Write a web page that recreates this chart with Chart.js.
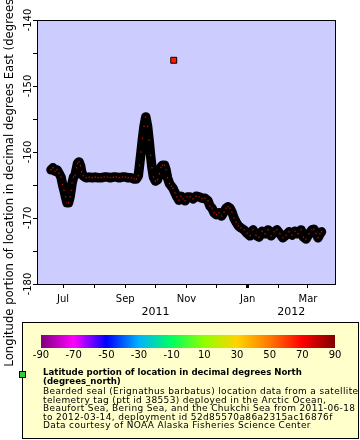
<!DOCTYPE html>
<html><head><meta charset="utf-8">
<script src="https://cdn.jsdelivr.net/npm/chart.js@4/dist/chart.umd.min.js"></script>
<style>html,body{margin:0;padding:0;background:#fff;}canvas{display:block;}</style>
</head><body>
<canvas id="c" width="360" height="440"></canvas>
<script>
// ---- data ----
const trackTimes = [
'2011-06-19','2011-06-21','2011-06-23','2011-06-25','2011-06-27','2011-06-29','2011-06-30T12','2011-07-02','2011-07-03T12','2011-07-05',
'2011-07-06T12','2011-07-08','2011-07-09','2011-07-10','2011-07-11T12','2011-07-13','2011-07-14T12','2011-07-15T12','2011-07-17','2011-07-18T12',
'2011-07-19T12','2011-07-21','2011-07-24','2011-07-27','2011-07-30','2011-08-02','2011-08-05','2011-08-08','2011-08-11','2011-08-14',
'2011-08-17','2011-08-20','2011-08-23','2011-08-26','2011-08-29','2011-09-01','2011-09-04','2011-09-07','2011-09-10','2011-09-12',
'2011-09-14','2011-09-15T05','2011-09-16T17','2011-09-18T05','2011-09-19T17','2011-09-21T10','2011-09-23T05','2011-09-24T17','2011-09-26T05','2011-09-27T14',
'2011-09-29T02','2011-10-01T02','2011-10-03T02','2011-10-05T02','2011-10-06T14','2011-10-08T02','2011-10-10T02','2011-10-11T14','2011-10-13T02','2011-10-15T02',
'2011-10-17T02','2011-10-18T14','2011-10-20T14','2011-10-22T12','2011-10-24T12','2011-10-26T12','2011-10-28T12','2011-10-30T12','2011-11-01T12','2011-11-04T12',
'2011-11-07T12','2011-11-10T12','2011-11-13T12','2011-11-16T10','2011-11-19T10','2011-11-22T10','2011-11-24T10','2011-11-26T10','2011-11-28T10','2011-11-30T22',
'2011-12-03T10','2011-12-05T22','2011-12-08T10','2011-12-10T10','2011-12-12T10','2011-12-14T07','2011-12-16T07','2011-12-18T07','2011-12-20T07','2011-12-22T19',
'2011-12-25T07','2011-12-28T07','2011-12-31T07','2012-01-03T07','2012-01-06T05','2012-01-09T05','2012-01-12T05','2012-01-15T05','2012-01-18T05','2012-01-21T05',
'2012-01-24T05','2012-01-27T05','2012-01-30T02','2012-02-02T02','2012-02-05T02','2012-02-08T02','2012-02-11T02','2012-02-14T02','2012-02-17T02','2012-02-20T02',
'2012-02-23T02','2012-02-25T12','2012-02-28','2012-03-02','2012-03-05','2012-03-07','2012-03-09','2012-03-11','2012-03-13','2012-03-14T12'
];
const trackLons = [
-162.7,-162.4,-162.9,-162.7,-163.2,-163.8,-164.9,-165.8,-166.8,-167.7,
-167.7,-166.8,-165.8,-164.7,-163.8,-163.5,-162.4,-161.7,-161.5,-162.1,
-163.0,-163.6,-163.9,-163.8,-163.9,-163.8,-163.9,-163.9,-163.8,-163.8,
-163.9,-163.8,-163.8,-163.9,-163.8,-163.8,-163.9,-163.9,-164.1,-164.1,
-163.6,-162.0,-160.0,-157.9,-156.1,-154.7,-156.1,-158.2,-160.5,-162.4,
-163.8,-164.4,-164.2,-163.3,-162.3,-162.0,-162.0,-162.7,-163.9,-164.8,
-165.2,-165.5,-166.2,-166.8,-167.3,-166.7,-167.1,-167.4,-166.8,-166.8,
-167.1,-166.7,-166.8,-167.0,-167.0,-167.4,-168.2,-168.5,-169.2,-169.5,
-169.2,-169.7,-169.1,-168.5,-168.3,-168.5,-169.1,-170.0,-170.6,-171.2,
-171.5,-171.8,-172.3,-172.7,-171.8,-172.6,-172.9,-172.0,-172.4,-171.8,
-172.7,-172.1,-171.8,-172.4,-173.0,-172.6,-172.1,-172.6,-172.0,-172.4,
-171.8,-172.9,-173.2,-172.4,-171.8,-171.7,-172.3,-173.0,-172.4,-172.1
];
const strayTimes = ['2011-10-19T07'];
const strayLons = [-146.1];

const xRange = ['2011-06-05T02', '2012-03-27T22'];
const monthTicks = ['2011-07-01','2011-08-01','2011-09-01','2011-10-01','2011-11-01','2011-12-01','2012-01-01','2012-02-01','2012-03-01'];
const monthLabels = ['Jul','','Sep','','Nov','','Jan','','Mar'];
const yearLabels = [2011, 2012];
const lonRange = [-180, -140];
const lonTicks = [-180,-175,-170,-165,-160,-155,-150,-145,-140];
const lonLabels = [-180,-170,-160,-150,-140];
const colorbarLabels = [-90,-70,-50,-30,-10,10,30,50,70,90];
const colorbarStops = [
  [-90,'#800080'],[-70,'#ff00ff'],[-50,'#0000ff'],[-30,'#00b4ff'],[-10,'#00ff60'],
  [10,'#90ff00'],[30,'#ffd400'],[50,'#ff7800'],[70,'#ff0000'],[90,'#800000']
];
const yTitle = 'Longitude portion of location in decimal degrees East (degrees_east)';
const legendBold = ['Latitude portion of location in decimal degrees North', '(degrees_north)'];
const legendLines = [
  'Bearded seal (Erignathus barbatus) location data from a satellite',
  'telemetry tag (ptt id 38553) deployed in the Arctic Ocean,',
  'Beaufort Sea, Bering Sea, and the Chukchi Sea from 2011-06-18',
  'to 2012-03-14, deployment id 52d85570a86a2315ac16876f',
  'Data courtesy of NOAA Alaska Fisheries Science Center'
];

// ---- helpers ----
function ts(s){ const [d,h] = s.split('T'); const [y,m,dd] = d.split('-').map(Number); return Date.UTC(y, m-1, dd, h ? +h : 0); }
const F = '"DejaVu Sans", sans-serif';
const markerRed = '#ff1a00';

const chrome = {
  id: 'chrome',
  beforeDraw(chart){
    const {ctx, chartArea:a} = chart;
    ctx.save();
    ctx.fillStyle = '#ffffff'; ctx.fillRect(0,0,chart.width,chart.height);
    ctx.fillStyle = '#ccccff'; ctx.fillRect(a.left, a.top, a.right-a.left, a.bottom-a.top);
    ctx.restore();
  },
  afterDraw(chart){
    const {ctx, chartArea:a, scales:{x, y}} = chart;
    ctx.save();
    ctx.strokeStyle = '#000'; ctx.lineWidth = 1;
    ctx.strokeRect(Math.floor(a.left)+0.5, Math.floor(a.top)+0.5, Math.round(a.right-a.left), Math.round(a.bottom-a.top));
    ctx.fillStyle = '#000';
    // y tick labels (rotated)
    ctx.font = '10px ' + F; ctx.textAlign = 'center'; ctx.textBaseline = 'alphabetic';
    lonLabels.forEach(v => {
      const py = y.getPixelForValue(v);
      ctx.save(); ctx.translate(a.left-6, py); ctx.rotate(-Math.PI/2); ctx.fillText(String(v), 0, 0); ctx.restore();
    });
    // y title
    ctx.font = '11.7px ' + F;
    ctx.save(); ctx.translate(13, (a.top+a.bottom)/2 + 13); ctx.rotate(-Math.PI/2); ctx.fillText(yTitle, 0, 0); ctx.restore();
    // year labels centred on each year's span
    ctx.font = '11px ' + F;
    yearLabels.forEach(yr => {
      const ys = Date.UTC(yr,0,1), ye = Date.UTC(yr+1,0,1);
      let start = ys;
      if (ys < x.min) {
        start = monthTicks.map(ts).filter((v,i) => monthLabels[i] && v >= ys && v < ye)[0];
      }
      const end = Math.min(ye, x.max);
      const cx = (x.getPixelForValue(start) + x.getPixelForValue(end)) / 2;
      ctx.fillText(String(yr), cx, 315);
    });
    // legend box
    ctx.fillStyle = '#ffffcc'; ctx.fillRect(22, 322, 337, 117);
    ctx.strokeRect(22.5, 322.5, 336, 116);
    // colour bar
    const bl = 41, br = 335, bt = 335, bb = 348;
    const g = ctx.createLinearGradient(bl, 0, br, 0);
    colorbarStops.forEach(([v,c]) => g.addColorStop((v+90)/180, c));
    ctx.fillStyle = g; ctx.fillRect(bl, bt, br-bl, bb-bt);
    ctx.fillStyle = '#000'; ctx.font = '10px ' + F; ctx.textAlign = 'center'; ctx.textBaseline = 'top';
    colorbarLabels.forEach(v => ctx.fillText(String(v), bl + (v+90)/180*(br-bl), 350));
    // legend marker + text
    ctx.fillStyle = '#33cc33'; ctx.fillRect(19.5, 371.5, 6, 6);
    ctx.strokeStyle = '#000'; ctx.strokeRect(19.5, 371.5, 6, 6);
    ctx.fillStyle = '#000'; ctx.textAlign = 'left'; ctx.textBaseline = 'alphabetic';
    ctx.font = 'bold 8.6px ' + F;
    legendBold.forEach((t,i) => ctx.fillText(t, 43, 375 + i*9));
    ctx.font = '9px ' + F;
    ctx.letterSpacing = '0.35px';
    legendLines.forEach((t,i) => ctx.fillText(t, 43, 394 + i*8.6));
    ctx.restore();
  }
};

new Chart(document.getElementById('c'), {
  type: 'line',
  data: { datasets: [
    { label: 'track', data: trackTimes.map((s,i) => ({x: ts(s), y: trackLons[i]})),
      borderColor: '#000', borderWidth: 9.5, borderJoinStyle: 'round', borderCapStyle: 'round', tension: 0, fill: false,
      pointStyle: 'rect', pointRadius: 1.5, pointBackgroundColor: markerRed, pointBorderColor: '#000', pointBorderWidth: 1 },
    { label: 'stray', data: strayTimes.map((s,i) => ({x: ts(s), y: strayLons[i]})), showLine: false,
      pointStyle: 'rect', pointRadius: 4.2, pointBackgroundColor: markerRed, pointBorderColor: '#000', pointBorderWidth: 1 }
  ]},
  options: {
    responsive: false, animation: false, devicePixelRatio: 1,
    layout: { padding: { top: 20, right: 25, left: 0, bottom: 120 } },
    plugins: { legend: { display: false }, tooltip: { enabled: false } },
    scales: {
      x: { type: 'linear', min: ts(xRange[0]), max: ts(xRange[1]),
        afterFit: s => { s.height = 36; },
        afterBuildTicks: s => { s.ticks = monthTicks.map(m => ({value: ts(m)})); },
        ticks: { autoSkip: false, maxRotation: 0, minRotation: 0, color: '#000', padding: 5,
          font: { family: 'DejaVu Sans', size: 10 }, callback: (v, i) => monthLabels[i] },
        grid: { drawOnChartArea: false, drawTicks: true, tickLength: 4, tickColor: '#000',
          tickWidth: c => (c.tick && new Date(c.tick.value).getUTCMonth() === 0) ? 3 : 1 },
        border: { color: '#000', width: 1 } },
      y: { min: lonRange[0], max: lonRange[1],
        afterFit: s => { s.width = 37; },
        afterBuildTicks: s => { s.ticks = lonTicks.map(v => ({value: v})); },
        ticks: { display: false },
        grid: { drawOnChartArea: false, drawTicks: true, tickLength: 4, tickColor: '#000' },
        border: { color: '#000', width: 1 } }
    }
  },
  plugins: [chrome]
});
</script>
</body></html>
